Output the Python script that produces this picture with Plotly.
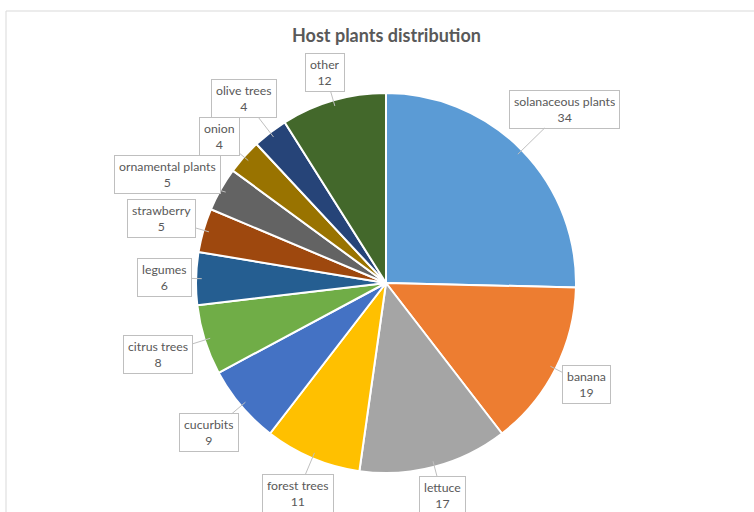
import math
import plotly.graph_objects as go

# ---- data ----
categories = ["solanaceous plants", "banana", "lettuce", "forest trees", "cucurbits",
              "citrus trees", "legumes", "strawberry", "ornamental plants", "onion",
              "olive trees", "other"]
values = [34, 19, 17, 11, 9, 8, 6, 5, 5, 4, 4, 12]
colors = ["#5B9BD5", "#ED7D31", "#A5A5A5", "#FFC000", "#4472C4", "#70AD47",
          "#255E91", "#9E480E", "#636363", "#997300", "#264478", "#43682B"]

# ---- geometry (pixels) ----
W, H = 754, 512
CX, CY, R = 386, 283, 190
GAP = 6
CHAR_W = 5.6
HALF_H = 18

fig = go.Figure(go.Pie(
    labels=categories,
    values=values,
    sort=False,
    direction="clockwise",
    rotation=0,
    marker=dict(colors=colors, line=dict(color="white", width=2)),
    textinfo="none",
    hoverinfo="label+value",
    showlegend=False,
    domain=dict(x=[(CX - R) / W, (CX + R) / W], y=[1 - (CY + R) / H, 1 - (CY - R) / H]),
))

total = sum(values)
cum = 0
boxes = []
for lab, v in zip(categories, values):
    mid = (cum + v / 2) / total * 2 * math.pi
    cum += v
    s, c = math.sin(mid), math.cos(mid)
    half_w = CHAR_W * max(len(lab), len(str(v))) / 2 + 6
    dist = R + GAP + abs(s) * half_w + abs(c) * HALF_H
    boxes.append(dict(lab=lab, v=v, s=s, c=c, hw=half_w,
                      px=CX + R * 0.97 * s, py=CY - R * 0.97 * c,
                      lx=CX + dist * s, ly=CY - dist * c))

# simple overlap resolution on the left side (top to bottom): push lower box down
left = sorted([b for b in boxes if b["s"] < 0], key=lambda b: b["ly"])
for upper, lower in zip(left, left[1:]):
    x_overlap = abs(upper["lx"] - lower["lx"]) < upper["hw"] + lower["hw"]
    need = upper["ly"] + 2 * HALF_H + 2
    if x_overlap and lower["ly"] < need:
        lower["ly"] = need

annotations = []
for b in boxes:
    annotations.append(dict(
        x=b["px"] / W, y=1 - b["py"] / H, xref="paper", yref="paper",
        ax=b["lx"] - b["px"], ay=b["ly"] - b["py"], axref="pixel", ayref="pixel",
        text=f"{b['lab']}<br>{b['v']}",
        showarrow=True, arrowhead=0, arrowwidth=1, arrowcolor="#BFBFBF",
        font=dict(family="Lato, Open Sans, sans-serif", size=12.3, color="#595959"),
        bgcolor="white", bordercolor="#BFBFBF", borderwidth=1, borderpad=4,
        height=29, valign="middle",
        align="center",
    ))

annotations.append(dict(
    x=CX / W, y=1 - 35 / H, xref="paper", yref="paper", showarrow=False,
    xanchor="center", yanchor="middle",
    text="<b>Host plants distribution</b>",
    font=dict(family="Lato, Open Sans, sans-serif", size=18, color="#595959"),
))

fig.update_layout(
    width=W, height=H,
    margin=dict(l=0, r=0, t=0, b=0),
    paper_bgcolor="white",
    plot_bgcolor="white",
    annotations=annotations,
    shapes=[dict(type="rect", xref="paper", yref="paper",
                 x0=6 / W, x1=1.05, y0=-0.05, y1=1 - 11 / H,
                 line=dict(color="#D9D9D9", width=1), fillcolor="rgba(0,0,0,0)", layer="below")],
)

fig.write_html("out.html", config={"displayModeBar": False},
               post_script="document.body.style.margin='0';")
